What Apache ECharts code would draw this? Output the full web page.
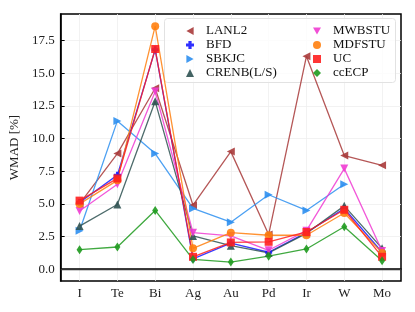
<!DOCTYPE html>
<html><head><meta charset="utf-8">
<script src="https://cdn.jsdelivr.net/npm/echarts@6/dist/echarts.min.js"></script>
<style>html,body{margin:0;padding:0;background:#fff}#c{width:415px;height:312px}</style>
</head><body><div id="c"></div>
<script>
const categories = ['I','Te','Bi','Ag','Au','Pd','Ir','W','Mo'];
const yTicks = [0, 2.5, 5, 7.5, 10, 12.5, 15, 17.5];
const LANL2  = [5.0, 8.85, 13.85, 4.9, 9.0, 2.65, 16.3, 8.7, 7.95];
const BFD    = [5.1, 7.2, 16.8, 0.8, 2.0, 1.3, 2.8, 4.65, 1.3];
const SBKJC  = [2.95, 11.35, 8.85, 4.65, 3.6, 5.7, 4.5, 6.5, null];
const CRENB  = [3.3, 4.95, 12.85, 2.55, 1.8, 1.25, 2.75, 4.85, 1.6];
const MWBSTU = [4.45, 6.5, 13.6, 2.8, 2.55, 1.45, 2.95, 7.7, 1.4];
const MDFSTU = [5.0, 6.8, 18.6, 1.6, 2.8, 2.6, 2.6, 4.3, 1.25];
const UC     = [5.25, 6.95, 16.85, 0.95, 2.05, 2.1, 2.85, 4.55, 0.95];
const ccECP  = [1.5, 1.7, 4.5, 0.75, 0.55, 1.0, 1.55, 3.25, 0.65];

const triLeft = 'path://M0,5L9,0L9,10Z';
const triRight = 'path://M9,5L0,0L0,10Z';
const triDown = 'path://M0,0L10,0L5,9Z';
const plusF = 'path://M3,0H7V3H10V7H7V10H3V7H0V3H3Z';

const defs = [
  {name:'LANL2', data:LANL2, color:'#a83a3a', symbol:triLeft, size:8},
  {name:'BFD', data:BFD, color:'#1a1aff', symbol:plusF, size:7},
  {name:'SBKJC', data:SBKJC, color:'#2d8ff0', symbol:triRight, size:8},
  {name:'CRENB(L/S)', data:CRENB, color:'#2f5252', symbol:'triangle', size:8},
  {name:'MWBSTU', data:MWBSTU, color:'#f03cd2', symbol:triDown, size:8},
  {name:'MDFSTU', data:MDFSTU, color:'#ff7f0e', symbol:'circle', size:8},
  {name:'UC', data:UC, color:'#ff1f1f', symbol:'rect', size:8},
  {name:'ccECP', data:ccECP, color:'#1e9a1e', symbol:'diamond', size:[6,9]}
];

const series = defs.map((d, i) => ({
  name: d.name, type: 'line', data: d.data,
  symbol: d.symbol, symbolSize: d.size, connectNulls: false,
  lineStyle: {color: d.color, width: 1.3, opacity: 0.85},
  itemStyle: {color: d.color, opacity: 0.9},
  emphasis: {disabled: true}, animation: false, z: 3,
  markLine: i === 0 ? {silent: true, symbol: 'none', label: {show: false},
    lineStyle: {color: '#333', width: 1.3, type: 'solid'}, animation: false,
    data: [{yAxis: 0}]} : undefined
}));

const legendBase = {
  orient: 'vertical', itemWidth: 8, itemHeight: 8, itemGap: 0, padding: 0,
  textStyle: {fontFamily: 'Liberation Serif', fontSize: 13, color: '#111', lineHeight: 14, padding: [0, 0, 0, 7]},
  selectedMode: false
};

const chart = echarts.init(document.getElementById('c'), null, {renderer: 'canvas'});
chart.setOption({
  animation: false,
  grid: {left: 58, top: 14, right: 14, bottom: 31, show: true, borderColor: '#000', borderWidth: 1.5},
  xAxis: {
    type: 'category', data: categories, boundaryGap: true,
    axisLine: {lineStyle: {color: '#000', width: 1.5}},
    axisTick: {inside: true, alignWithLabel: true, length: 4, lineStyle: {color: '#000', width: 1}},
    axisLabel: {fontFamily: 'Liberation Serif', fontSize: 13, color: '#222', margin: 6},
    splitLine: {show: true, alignWithLabel: true, lineStyle: {color: '#efefef', width: 0.8}}
  },
  yAxis: {
    type: 'value', min: -0.9, max: 19.53,
    name: 'WMAD [%]', nameLocation: 'middle', nameGap: 31,
    nameTextStyle: {fontFamily: 'Liberation Serif', fontSize: 13, color: '#222'},
    axisLine: {show: true, lineStyle: {color: '#000', width: 1.5}},
    axisTick: {show: true, inside: true, length: 4, customValues: yTicks, lineStyle: {color: '#000', width: 1}},
    axisLabel: {fontFamily: 'Liberation Serif', fontSize: 13, color: '#222', margin: 6,
      customValues: yTicks, formatter: v => v.toFixed(1)},
    splitLine: {show: true, lineStyle: {color: '#efefef', width: 0.8}}
  },
  graphic: [{type: 'rect', left: 164, top: 18, shape: {width: 231, height: 64, r: 3},
    style: {fill: 'rgba(255,255,255,0.8)', stroke: '#e2e2e2', lineWidth: 1}, z: 1}],
  legend: [
    Object.assign({}, legendBase, {left: 186, top: 24, z: 100,
      data: defs.slice(0,4).map(d => ({name: d.name, icon: d.symbol}))}),
    Object.assign({}, legendBase, {left: 313, top: 24, z: 100,
      data: defs.slice(4).map(d => ({name: d.name, icon: d.symbol}))})
  ],
  series: series
});
</script></body></html>
